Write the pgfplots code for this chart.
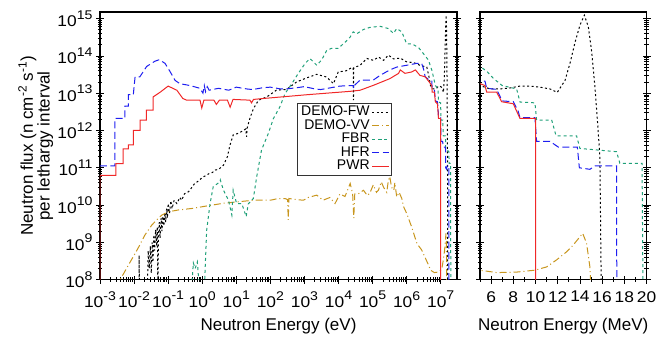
\documentclass[border=0pt]{standalone}
\usepackage{fontspec}
\setmainfont{Liberation Sans}
\newfontfamily\tickfont[FakeStretch=1.12]{Liberation Sans}
\usepackage{pgfplots}
\pgfplotsset{compat=1.18}
\definecolor{cvv}{RGB}{200,150,30}
\definecolor{cfbr}{RGB}{30,160,120}
\definecolor{chfr}{RGB}{30,30,240}
\definecolor{cpwr}{RGB}{240,40,40}
\newcommand\ex[1]{\raisebox{7.6pt}{\fontsize{12.6}{12.6}\selectfont #1}}
\newcommand\tl[1]{10\ex{#1}}
\begin{document}
\begin{tikzpicture}
\path[use as bounding box] (-100pt,-58.3pt) rectangle (568pt,279.7pt);
\begin{axis}[scale only axis, height=267.7pt, width=357pt, at={(0pt,0pt)}, anchor=south west,
  xmode=log, ymode=log, xmin=1e-3, xmax=3e7, ymin=1e8, ymax=1.5e15,
  axis line style={line width=1.1pt}, tick style={black, line width=0.7pt},
  tick align=center, major tick length=8pt, minor tick length=4.5pt,
  xtick pos=bottom, ytick pos=both,
  ticklabel style={font=\tickfont\fontsize{15.5}{15.5}\selectfont},
  xticklabel style={yshift=-4pt},
  label style={font=\fontsize{17}{17}\selectfont},
  no markers,
  xtick={1e-3,1e-2,1e-1,1,1e1,1e2,1e3,1e4,1e5,1e6,1e7},
  xticklabels={\tl{-3},\tl{-2},\tl{-1},\tl{0},\tl{1},\tl{2},\tl{3},\tl{4},\tl{5},\tl{6},\tl{7}},
  ytick={1e8,1e9,1e10,1e11,1e12,1e13,1e14,1e15},
  yticklabels={\tl{8},\tl{9},\tl{10},\tl{11},\tl{12},\tl{13},\tl{14},\tl{15}},
  xlabel={Neutron Energy (eV)},
  xlabel style={at={(rel axis cs:0.5,-0.175)}, anchor=center},
  ylabel={Neutron flux (n cm\textsuperscript{-2} s\textsuperscript{-1})\\per lethargy interval},
  ylabel style={at={(rel axis cs:-0.18,0.5)}, anchor=center, align=center,
    font=\fontsize{17}{15.5}\selectfont},
  legend plot pos=right,
  legend cell align=right,
  legend style={at={(0.551,0.661)}, anchor=north west, draw=black!80, line width=1pt,
    font=\fontsize{14}{14}\selectfont, row sep=0pt, inner sep=2pt,
    nodes={inner ysep=0.3pt, inner xsep=2pt, text height=10pt, text depth=3pt}},
]
\addplot[draw=black, line width=1pt, dash pattern=on 2pt off 2.5pt] coordinates {(0.0139,5e7)(0.0141,4.5e8)(0.0143,5e7)(0.0245,5e7)(0.026,6e8)(0.028,2e8)(0.030,8e8)(0.032,1.5e8)(0.034,1.0e9)(0.036,3e8)(0.038,1.6e9)(0.040,6e8)(0.043,2.2e9)(0.046,8e8)(0.048,2.6e9)(0.050,5e7)(0.052,1.5e9)(0.055,3.5e9)(0.058,1.3e9)(0.062,4.5e9)(0.066,2e9)(0.070,5e9)(0.075,2.8e9)(0.080,6e9)(0.085,3.5e9)(0.090,8e9)(0.095,4.5e9)(0.10,1.1e10)(0.11,6e9)(0.12,1.3e10)(0.13,8e9)(0.15,1.35e10)(0.18,1.1e10)(0.22,1.6e10)(0.25,1.35e10)(0.30,2.0e10)(0.40,2.3e10)(0.50,3.0e10)(0.60,3.8e10)(0.80,4.5e10)(1.0,5.5e10)(1.2,6.0e10)(1.6,7.0e10)(2.0,7.5e10)(2.4,8.7e10)(3.0,9.0e10)(4.2,1.17e11)(5.5,2.0e11)(6.5,4.0e11)(8.1,7.6e11)(12,8.5e11)(16,1.0e12)(19,1.1e12)(20,6.8e11)(21,1.2e12)(25,2.1e12)(32,3.9e12)(45,6.5e12)(78,7.9e12)(150,1.2e13)(300,1.26e13)(590,2.0e13)(1.2e3,2.6e13)(2.3e3,3.2e13)(4.5e3,2.7e13)(7.1e3,1.8e13)(9.8e3,3.7e13)(1.7e4,4.0e13)(2.4e4,4.8e13)(2.7e4,4.8e13)(2.75e4,6.5e12)(2.8e4,4.8e13)(4.3e4,5.6e13)(6.8e4,8.5e13)(1.05e5,7.6e13)(1.5e5,9.3e13)(2.1e5,7.6e13)(2.9e5,1.05e14)(4.1e5,8.3e13)(6.5e5,8.7e13)(1.0e6,6.9e13)(1.6e6,6.6e13)(2.45e6,5.6e13)(3.9e6,5.0e13)(4.5e6,2.8e13)(5.0e6,1.6e13)(5.9e6,1.3e13)(6.8e6,1.3e13)(7.7e6,1.38e13)(8.6e6,1.55e13)(9.5e6,1.55e13)(1.04e7,1.45e13)(1.13e7,1.3e13)(1.196e7,1.05e13)(1.266e7,2.2e13)(1.31e7,6.2e13)(1.356e7,2.3e14)(1.40e7,6.6e14)(1.44e7,1.23e15)(1.476e7,6.0e14)(1.506e7,1.3e14)(1.536e7,1.4e13)(1.56e7,1.5e12)(1.58e7,2e11)(1.595e7,1e7)};
\addlegendentry{DEMO-FW}
\addplot[draw=cvv, line width=1pt, dash pattern=on 7pt off 3pt on 1pt off 3pt] coordinates {(3.9e-3,1e7)(3.9e-3,1e8)(6.8e-3,2.45e8)(1.3e-2,6.9e8)(2.1e-2,1.6e9)(3.3e-2,2.9e9)(4.6e-2,4.0e9)(6.5e-2,5.4e9)(0.1,6.6e9)(0.2,7.4e9)(0.49,8.1e9)(1.2,9.3e9)(4.2,1.12e10)(32,1.35e10)(100,1.35e10)(170,1.5e10)(270,1.5e10)(320,1.4e10)(335,4e9)(350,1.5e10)(600,1.4e10)(930,1.35e10)(1.3e3,1.6e10)(2.3e3,1.85e10)(3.5e3,1.35e10)(5.6e3,1.6e10)(7.9e3,1.1e10)(1.1e4,2.0e10)(1.55e4,1.7e10)(2.2e4,3.8e10)(2.6e4,2.0e10)(2.8e4,4.5e9)(3.0e4,2.0e10)(3.8e4,2.0e10)(5.4e4,2.5e10)(7e4,1.8e10)(8.3e4,2.1e10)(1.05e5,3.5e10)(1.3e5,2.2e10)(1.48e5,2.5e10)(1.8e5,4.2e10)(2.1e5,3.0e10)(2.6e5,2.2e10)(2.9e5,4.6e10)(3.2e5,5.8e10)(3.6e5,3.0e10)(4.2e5,2.5e10)(4.5e5,4.0e10)(5.1e5,1.65e10)(6e5,2.2e10)(7.2e5,1.5e10)(8.1e5,9.1e9)(1.0e6,6.0e9)(1.4e6,2.6e9)(2.0e6,9.3e8)(2.75e6,6.3e8)(4.4e6,2.45e8)(5.0e6,1.8e8)(6.5e6,1.55e8)(8.3e6,1.6e8)(9.95e6,1.8e8)(1.1e7,2.2e8)(1.19e7,3.4e8)(1.28e7,5.6e8)(1.34e7,8.5e8)(1.425e7,1.75e9)(1.46e7,9.5e8)(1.49e7,2.2e8)(1.51e7,1e7)};
\addlegendentry{DEMO-VV}
\addplot[draw=cfbr, line width=1pt, dash pattern=on 3pt off 3pt] coordinates {(0.42,1e7)(0.55,2.8e8)(0.62,2.0e8)(0.72,3.0e8)(0.95,1e7)(1.07,1e7)(1.35,2.1e9)(1.7,1.1e10)(2.1,3.1e10)(3.3,4.2e10)(3.4,4.7e10)(4.2,2.5e10)(5.9,1.35e10)(7.4,5.4e9)(8.1,2.5e10)(10.2,1.1e10)(14.5,1.1e10)(19.5,4.9e9)(22.4,1.07e10)(31.6,1.5e10)(39.8,5.8e10)(55,3.0e11)(87,8.3e11)(123,2.1e12)(190,4.3e12)(270,9.8e12)(427,1.8e13)(660,3.4e13)(1.05e3,6.3e13)(1.45e3,8.5e13)(2.3e3,5.6e13)(3.2e3,7.8e13)(4.5e3,1.4e14)(6.3e3,1.6e14)(9.8e3,1.6e14)(1.55e4,2.3e14)(2.2e4,3.2e14)(2.7e4,4.4e14)(3.4e4,3.9e14)(5.4e4,5.1e14)(8.3e4,5.8e14)(1.66e5,6.2e14)(2.9e5,5.4e14)(4.1e5,4.0e14)(5.1e5,5.4e14)(7.2e5,4.4e14)(1.0e6,2.1e14)(1.4e6,2.1e14)(2.2e6,1.7e14)(3.1e6,1.15e14)(4.4e6,7.6e13)(5.0e6,5.2e13)(5.6e6,3.9e13)(6.2e6,2.5e13)(7.0e6,1.6e13)(8.3e6,1.3e13)(8.6e6,5.8e12)(9.95e6,5.5e12)(1.01e7,1.9e12)(1.146e7,1.9e12)(1.185e7,7.2e11)(1.37e7,7.2e11)(1.40e7,3.3e11)(1.73e7,2.7e11)(1.76e7,1.32e11)(1.96e7,1.32e11)(1.97e7,1e7)};
\addlegendentry{FBR}
\addplot[draw=chfr, line width=1pt, dash pattern=on 7pt off 3.5pt] coordinates {(1e-3,1.12e11)(2.75e-3,1.12e11)(2.75e-3,2.1e12)(5.4e-3,2.1e12)(5.4e-3,4.5e12)(6.8e-3,4.5e12)(6.8e-3,9.1e12)(9.5e-3,9.1e12)(1.07e-2,2.75e13)(1.48e-2,2.75e13)(2.34e-2,5.2e13)(4.1e-2,7.2e13)(5.5e-2,7.9e13)(8.1e-2,6.3e13)(0.11,4.0e13)(0.16,2.2e13)(0.22,1.8e13)(0.44,1.6e13)(0.86,1.35e13)(1.05,1.0e13)(1.15,1.6e13)(1.25,1.1e13)(1.4,1.5e13)(1.6,1.2e13)(3,1.35e13)(6,1.2e13)(10,1.45e13)(20,1.3e13)(30,1.25e13)(60,1.4e13)(100,1.45e13)(200,1.3e13)(300,1.3e13)(600,1.4e13)(1e3,1.5e13)(2e3,1.3e13)(3e3,1.25e13)(6e3,1.4e13)(1.1e4,1.55e13)(2.7e4,1.6e13)(2.8e4,1.35e13)(2.9e4,1.6e13)(4.3e4,2.25e13)(1.05e5,2.25e13)(1.66e5,3.0e13)(3.2e5,4.2e13)(5.1e5,5.0e13)(1.0e6,5.6e13)(2.0e6,6.3e13)(2.75e6,6.3e13)(3.1e6,4.6e13)(3.5e6,2.75e13)(5.0e6,2.1e13)(5.45e6,2.1e13)(5.6e6,1.35e13)(6.5e6,1.26e13)(7.0e6,6.2e12)(8.0e6,5.9e12)(8.45e6,3.2e12)(8.6e6,2.2e12)(9.95e6,2.2e12)(1.01e7,5.1e11)(1.13e7,5.1e11)(1.205e7,3.6e11)(1.377e7,3.6e11)(1.395e7,1.0e11)(1.49e7,9.1e10)(1.536e7,1.12e11)(1.73e7,1.12e11)(1.733e7,1e7)};
\addlegendentry{HFR}
\addplot[draw=cpwr, line width=1pt, solid] coordinates {(1e-3,1e7)(1e-3,6.3e10)(2.9e-3,6.3e10)(2.9e-3,1.3e11)(4.8e-3,1.3e11)(4.8e-3,3.2e11)(6.8e-3,3.2e11)(6.8e-3,4.1e11)(9.5e-3,4.1e11)(9.5e-3,1.0e12)(1.5e-2,1.0e12)(1.5e-2,1.9e12)(2.3e-2,1.9e12)(2.3e-2,3.5e12)(3.6e-2,3.5e12)(3.6e-2,7.9e12)(5.9e-2,1.07e13)(0.1,1.55e13)(0.18,1.2e13)(0.27,7.2e12)(0.35,6.5e12)(0.86,6.5e12)(0.97,4.0e12)(1.12,6.5e12)(2.2,6.5e12)(2.6,5.0e12)(3.2,6.5e12)(5.5,6.5e12)(6.6,4.2e12)(8.0,6.8e12)(25,6.5e12)(28,5.5e12)(32,6.8e12)(62,7.2e12)(1.2e3,9.1e12)(2.2e4,1.12e13)(4.3e4,1.2e13)(1.05e5,1.62e13)(3.2e5,2.45e13)(5.8e5,3.4e13)(6.5e5,4.2e13)(8.9e5,3.4e13)(1.4e6,3.7e13)(1.8e6,4.2e13)(2.45e6,3.0e13)(3.5e6,2.75e13)(5.0e6,1.8e13)(5.45e6,1.6e13)(5.6e6,1.07e13)(6.5e6,1.07e13)(6.95e6,5.9e12)(8.0e6,5.2e12)(8.6e6,2.1e12)(1.0e7,2.1e12)(1.0e7,1e7)};
\addlegendentry{PWR}
\end{axis}
\begin{axis}[scale only axis, height=267.7pt, width=166.5pt, at={(380pt,0pt)}, anchor=south west,
  ymode=log, xmin=5, xmax=20, ymin=1e8, ymax=1.5e15,
  axis line style={line width=1.1pt}, tick style={black, line width=0.7pt},
  tick align=center, major tick length=8pt, minor tick length=4.5pt,
  xtick pos=bottom, ytick pos=both,
  ticklabel style={font=\tickfont\fontsize{15.5}{15.5}\selectfont},
  xticklabel style={yshift=-4pt},
  label style={font=\fontsize{17}{17}\selectfont},
  no markers,
  xtick={6,8,10,12,14,16,18,20},
  xticklabels={6,8,10,12,14,16,18,20},
  minor xtick={5,7,9,11,13,15,17,19},
  ytick={1e8,1e9,1e10,1e11,1e12,1e13,1e14,1e15},
  yticklabels={},
  xlabel={Neutron Energy (MeV)},
  xlabel style={at={(rel axis cs:0.5,-0.175)}, anchor=center},
]
\addplot[draw=black, line width=1pt, dash pattern=on 2pt off 2.5pt] coordinates {(4.5,2.8e13)(5.0,1.6e13)(5.9,1.3e13)(6.8,1.3e13)(7.7,1.38e13)(8.6,1.55e13)(9.5,1.55e13)(10.4,1.45e13)(11.3,1.3e13)(11.96,1.05e13)(12.66,2.2e13)(13.1,6.2e13)(13.56,2.3e14)(14.0,6.6e14)(14.4,1.23e15)(14.76,6.0e14)(15.06,1.3e14)(15.36,1.4e13)(15.6,1.5e12)(15.8,2e11)(15.95,1e7)};
\addplot[draw=cvv, line width=1pt, dash pattern=on 7pt off 3pt on 1pt off 3pt] coordinates {(4.4,2.45e8)(5.0,1.8e8)(6.5,1.55e8)(8.3,1.6e8)(9.95,1.8e8)(11.0,2.2e8)(11.9,3.4e8)(12.8,5.6e8)(13.4,8.5e8)(14.25,1.75e9)(14.6,9.5e8)(14.9,2.2e8)(15.1,1e7)};
\addplot[draw=cfbr, line width=1pt, dash pattern=on 3pt off 3pt] coordinates {(4.4,7.6e13)(5.0,5.2e13)(5.6,3.9e13)(6.2,2.5e13)(7.0,1.6e13)(8.3,1.3e13)(8.6,5.8e12)(9.95,5.5e12)(10.1,1.9e12)(11.46,1.9e12)(11.85,7.2e11)(13.7,7.2e11)(14.0,3.3e11)(17.3,2.7e11)(17.6,1.32e11)(19.6,1.32e11)(19.7,1e7)};
\addplot[draw=chfr, line width=1pt, dash pattern=on 7pt off 3.5pt] coordinates {(3.5,2.75e13)(5.0,2.1e13)(5.45,2.1e13)(5.6,1.35e13)(6.5,1.26e13)(7.0,6.2e12)(8.0,5.9e12)(8.45,3.2e12)(8.6,2.2e12)(9.95,2.2e12)(10.1,5.1e11)(11.3,5.1e11)(12.05,3.6e11)(13.77,3.6e11)(13.95,1.0e11)(14.9,9.1e10)(15.36,1.12e11)(17.3,1.12e11)(17.33,1e7)};
\addplot[draw=cpwr, line width=1pt, solid] coordinates {(3.5,2.75e13)(5.0,1.8e13)(5.45,1.6e13)(5.6,1.07e13)(6.5,1.07e13)(6.95,5.9e12)(8.0,5.2e12)(8.6,2.1e12)(10.0,2.1e12)(10.0,1e7)};
\end{axis}
\end{tikzpicture}
\end{document}
